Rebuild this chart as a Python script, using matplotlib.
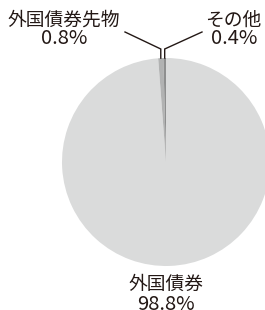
import numpy as np
import matplotlib
matplotlib.use("Agg")
import matplotlib.pyplot as plt

plt.rcParams['font.family'] = ['Noto Sans CJK JP', 'DejaVu Sans']

# data
labels = ["外国債券", "外国債券先物", "その他"]
shares = [98.8, 0.8, 0.4]
colors = ["#dadbdb", "#b1b2b2", "#8e8f8f"]

W, H = 265, 310
fig = plt.figure(figsize=(W / 100, H / 100), dpi=100)
ax = fig.add_axes([0, 0, 1, 1])

cx, cy, r = 166, H - 162, 104
wedges, _ = ax.pie(shares, colors=colors, startangle=90, counterclock=False,
                   center=(cx, cy), radius=r, frame=True,
                   wedgeprops=dict(linewidth=0))
ax.set_xlim(0, W)
ax.set_ylim(0, H)
ax.set_aspect('equal')
ax.axis('off')

txt = "#231815"
fs = 13.5
fs_pct = 14.5

# small slices: leader lines from the wedge top
ends = {1: (125, H - 32), 2: (202, H - 32)}
for i in (1, 2):
    w = wedges[i]
    mid = np.deg2rad((w.theta1 + w.theta2) / 2)
    x0 = cx + r * np.cos(mid)
    y0 = cy + r * np.sin(mid)
    ex, ey = ends[i]
    ax.plot([x0, x0, ex], [y0, H - 49, ey], color=txt, lw=1, solid_joinstyle='miter')

ax.text(64, H - 20, labels[1], ha='center', va='center', fontsize=fs, color=txt)
ax.text(64, H - 39, f"{shares[1]}%", ha='center', va='center', fontsize=fs_pct, color=txt)
ax.text(233, H - 20, labels[2], ha='center', va='center', fontsize=fs, color=txt)
ax.text(234, H - 39, f"{shares[2]}%", ha='center', va='center', fontsize=fs_pct, color=txt)
ax.text(166, H - 284, labels[0], ha='center', va='center', fontsize=fs, color=txt)
ax.text(166, H - 304, f"{shares[0]}%", ha='center', va='center', fontsize=fs_pct, color=txt)

fig.savefig("out.png", dpi=100)
